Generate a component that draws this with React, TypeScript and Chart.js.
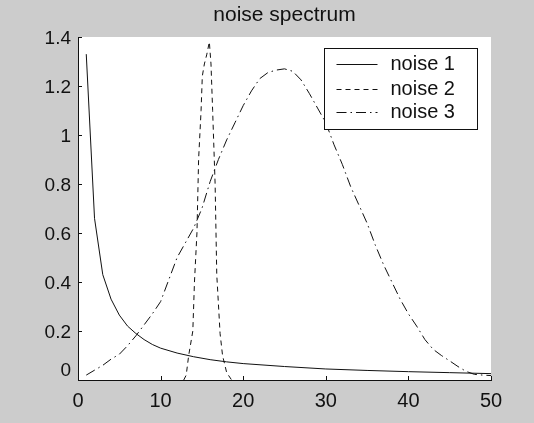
import React, { useEffect, useRef } from "react";
import { Chart, registerables } from "chart.js";

Chart.register(...registerables);

// ---- data -------------------------------------------------------------
const titleText = "noise spectrum";
const seriesLabels = ["noise 1", "noise 2", "noise 3"];

const noise1X = [1, 2, 3, 4, 5, 6, 7, 8, 9, 10, 12, 14, 16, 18, 20, 25, 30, 35, 40, 45, 50];
const noise1Y = [1.33, 0.66, 0.43, 0.33, 0.265, 0.22, 0.19, 0.165, 0.145, 0.13, 0.11, 0.095, 0.083, 0.074, 0.067, 0.055, 0.045, 0.039, 0.034, 0.03, 0.026];

const noise2X = [12.8, 13.1, 13.4, 13.9, 14.1, 14.4, 14.6, 14.9, 15.05, 15.3, 15.6, 15.9, 16.1, 16.3, 16.4, 16.6, 16.8, 17.2, 17.5, 18.0, 18.6];
const noise2Y = [0, 0.02, 0.1, 0.2, 0.4, 0.6, 0.9, 1.1, 1.24, 1.29, 1.33, 1.38, 1.29, 1.1, 1.0, 0.8, 0.43, 0.19, 0.1, 0.03, 0];

const noise3X = [1, 2, 3, 4, 5, 6, 7, 8, 9, 10, 11, 12, 13, 14, 15, 16, 17, 18, 19, 20, 21, 22, 23, 24, 25, 26, 27, 28, 29, 30, 31, 32, 33, 34, 35, 36, 37, 38, 39, 40, 41, 42, 43, 44, 45, 46, 47, 48, 49, 50];
const noise3Y = [0.02, 0.04, 0.06, 0.085, 0.105, 0.14, 0.18, 0.225, 0.27, 0.32, 0.41, 0.5, 0.56, 0.62, 0.7, 0.81, 0.9, 0.98, 1.05, 1.12, 1.18, 1.23, 1.255, 1.265, 1.27, 1.26, 1.225, 1.17, 1.11, 1.05, 0.96, 0.88, 0.79, 0.715, 0.64, 0.55, 0.47, 0.4, 0.33, 0.27, 0.22, 0.165, 0.125, 0.1, 0.078, 0.055, 0.035, 0.023, 0.02, 0.018];

const xTicks = [0, 10, 20, 30, 40, 50];
const yTicks = [0, 0.2, 0.4, 0.6, 0.8, 1, 1.2, 1.4];

// ---- styling ----------------------------------------------------------
const FONT = "'Liberation Sans', Arial, sans-serif";
const FIG_BG = "#cccccc";
const INK = "#111111";
const dashes: number[][] = [[], [5, 4], [10, 4, 1.5, 4]];

const toPoints = (xs: number[], ys: number[]) => xs.map((x, i) => ({ x, y: ys[i] }));
const fmt = (v: number) => String(Number(v.toFixed(1)));

// Figure background, white axes box, title, inward ticks, y labels and a boxed legend
const figurePlugin = {
  id: "figureDecor",
  beforeDraw(chart: any) {
    const { ctx, chartArea, width, height } = chart;
    ctx.save();
    ctx.fillStyle = FIG_BG;
    ctx.fillRect(0, 0, width, height);
    ctx.fillStyle = "#ffffff";
    ctx.fillRect(chartArea.left, chartArea.top, chartArea.right - chartArea.left, chartArea.bottom - chartArea.top);
    ctx.fillStyle = INK;
    ctx.font = `21px ${FONT}`;
    ctx.textAlign = "center";
    ctx.textBaseline = "middle";
    ctx.fillText(titleText, (chartArea.left + chartArea.right) / 2, 15);
    ctx.restore();
  },
  afterDraw(chart: any) {
    const { ctx, chartArea, scales } = chart;
    ctx.save();
    ctx.strokeStyle = INK;
    ctx.lineWidth = 1;
    ctx.beginPath();
    for (const v of xTicks) {
      const px = Math.round(scales.x.getPixelForValue(v)) + 0.5;
      ctx.moveTo(px, chartArea.bottom);
      ctx.lineTo(px, chartArea.bottom - 4);
    }
    for (const v of yTicks) {
      const py = Math.round(scales.y.getPixelForValue(v)) + 0.5;
      ctx.moveTo(chartArea.left, py);
      ctx.lineTo(chartArea.left + 4, py);
    }
    ctx.stroke();

    // y tick labels; the zero label is lifted clear of the x axis labels
    ctx.fillStyle = INK;
    ctx.font = `19px ${FONT}`;
    ctx.textAlign = "right";
    ctx.textBaseline = "middle";
    for (const v of yTicks) {
      const py = scales.y.getPixelForValue(v) + (v === 0 ? -9 : 2);
      ctx.fillText(fmt(v), chartArea.left - 7, py);
    }

    // legend
    const bx = chartArea.right - 166.5;
    const by = chartArea.top + 11.5;
    const bw = 153;
    const bh = 81;
    ctx.fillStyle = "#ffffff";
    ctx.fillRect(bx, by, bw, bh);
    ctx.strokeRect(bx, by, bw, bh);
    const rowY = [15, 40, 63];
    chart.data.datasets.forEach((ds: any, i: number) => {
      const y = Math.round(by + rowY[i]) + 0.5;
      ctx.setLineDash(ds.borderDash || []);
      ctx.beginPath();
      ctx.moveTo(bx + 12, y);
      ctx.lineTo(bx + 53, y);
      ctx.stroke();
      ctx.setLineDash([]);
      ctx.fillStyle = INK;
      ctx.font = `20px ${FONT}`;
      ctx.textAlign = "left";
      ctx.textBaseline = "middle";
      ctx.fillText(ds.label, bx + 66, y);
    });
    ctx.restore();
  },
};

export default function App() {
  const canvasRef = useRef<HTMLCanvasElement | null>(null);

  useEffect(() => {
    document.body.style.margin = "0";
    const canvas = canvasRef.current;
    if (!canvas) return;
    const series = [toPoints(noise1X, noise1Y), toPoints(noise2X, noise2Y), toPoints(noise3X, noise3Y)];
    const chart = new Chart(canvas, {
      type: "line",
      data: {
        datasets: series.map((pts, i) => ({
          label: seriesLabels[i],
          data: pts,
          borderColor: INK,
          borderWidth: 1,
          borderDash: dashes[i],
          pointRadius: 0,
          tension: 0,
          fill: false,
        })),
      },
      options: {
        animation: false,
        responsive: false,
        devicePixelRatio: 1,
        layout: { padding: { top: 37, right: 43, left: 0, bottom: 0 } },
        plugins: { legend: { display: false }, title: { display: false }, tooltip: { enabled: false } },
        scales: {
          x: {
            type: "linear",
            min: 0,
            max: 50,
            afterBuildTicks: (s: any) => {
              s.ticks = xTicks.map((v) => ({ value: v }));
            },
            afterFit: (s: any) => {
              s.height = 43;
            },
            grid: { display: false, drawTicks: false },
            border: { display: true, color: INK, width: 1 },
            ticks: { color: INK, font: { family: FONT, size: 20 }, padding: 9, maxRotation: 0 },
          },
          y: {
            type: "linear",
            min: 0,
            max: 1.4,
            afterBuildTicks: (s: any) => {
              s.ticks = yTicks.map((v) => ({ value: v }));
            },
            afterFit: (s: any) => {
              s.width = 78;
            },
            grid: { display: false, drawTicks: false },
            border: { display: true, color: INK, width: 1 },
            ticks: { display: false },
          },
        },
      },
      plugins: [figurePlugin],
    });
    return () => chart.destroy();
  }, []);

  return (
    <div style={{ width: 534, height: 423, background: FIG_BG }}>
      <canvas ref={canvasRef} width={534} height={423} style={{ display: "block" }} />
    </div>
  );
}
